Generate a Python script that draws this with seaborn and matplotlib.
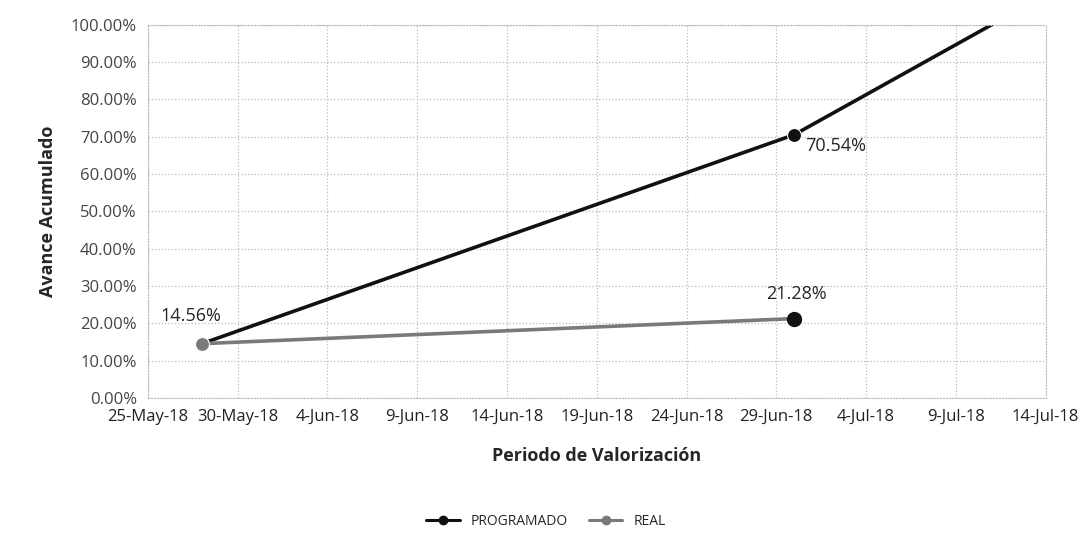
import matplotlib
matplotlib.use('Agg')
import matplotlib.pyplot as plt
import matplotlib.dates as mdates
from matplotlib.lines import Line2D
from matplotlib.ticker import PercentFormatter
import pandas as pd
import seaborn as sns


prog_dates = ['2018-05-28', '2018-06-30', '2018-07-11']
prog_values = [14.56, 70.54, 100.0]
real_dates = ['2018-05-28', '2018-06-30']
real_values = [14.56, 21.28]
tick_dates = pd.date_range('2018-05-25', '2018-07-14', freq='5D')


def build_df() -> pd.DataFrame:
  prog = pd.DataFrame({'fecha': pd.to_datetime(prog_dates), 'avance': prog_values, 'serie': 'PROGRAMADO'})
  real = pd.DataFrame({'fecha': pd.to_datetime(real_dates), 'avance': real_values, 'serie': 'REAL'})
  return pd.concat([prog, real], ignore_index=True)


def main() -> None:
  sns.set_style('white')
  plt.rcParams['font.family'] = ['Open Sans', 'DejaVu Sans']

  df = build_df()
  fig = plt.figure(figsize=(10.92, 5.49), dpi=100)
  ax = fig.add_axes([0.1355, 0.275, 0.822, 0.68])

  colors = {'PROGRAMADO': '#111111', 'REAL': '#7a7a7a'}
  prog = df[df.serie == 'PROGRAMADO']
  real = df[df.serie == 'REAL']
  sns.lineplot(x='fecha', y='avance', data=prog, color=colors['PROGRAMADO'], lw=2.6,
               marker='o', markersize=10, markevery=[0, 1], ax=ax)
  sns.lineplot(x='fecha', y='avance', data=real, color=colors['REAL'], lw=2.6,
               marker='o', markersize=10, ax=ax)
  # end of REAL drawn darker like the reference
  ax.plot(real.fecha.iloc[-1], real.avance.iloc[-1], 'o', color='#111111', markersize=10)

  ax.set_xlim(tick_dates[0], tick_dates[-1])
  ax.set_ylim(0, 100)
  ax.set_yticks(range(0, 101, 10))
  ax.yaxis.set_major_formatter(PercentFormatter(decimals=2))
  ax.set_xticks(tick_dates)
  ax.xaxis.set_major_formatter(mdates.DateFormatter('%-d-%b-%y'))
  ax.grid(True, color='#bbbbbb', ls=':', lw=0.9)
  for s in ax.spines.values():
    s.set_color('#bbbbbb')
    s.set_linestyle(':')
  ax.tick_params(axis='both', length=0, labelsize=12, colors='#444444', pad=8)
  ax.tick_params(axis='x', colors='#222222')

  ax.set_ylabel('Avance Acumulado', fontsize=13, fontweight='bold', labelpad=10)
  ax.set_xlabel('Periodo de Valorización', fontsize=13, fontweight='bold', labelpad=16)

  fs = 13
  ax.annotate(f'{prog_values[0]:.2f}%', (pd.Timestamp(prog_dates[0]), prog_values[0]),
              xytext=(-30, 16), textcoords='offset points', fontsize=fs)
  ax.annotate(f'{prog_values[1]:.2f}%', (pd.Timestamp(prog_dates[1]), prog_values[1]),
              xytext=(8, -12), textcoords='offset points', fontsize=fs)
  ax.annotate(f'{real_values[1]:.2f}%', (pd.Timestamp(real_dates[1]), real_values[1]),
              xytext=(-20, 14), textcoords='offset points', fontsize=fs)

  handles = [Line2D([], [], color=colors[k], lw=2.2, marker='o', markersize=6) for k in colors]
  fig.legend(handles, list(colors), loc='center', bbox_to_anchor=(0.5, 0.05), ncol=2,
             frameon=False, fontsize=10, handlelength=2.4, columnspacing=1.5)

  fig.savefig('out.png', dpi=100)


if __name__ == '__main__':
  main()
